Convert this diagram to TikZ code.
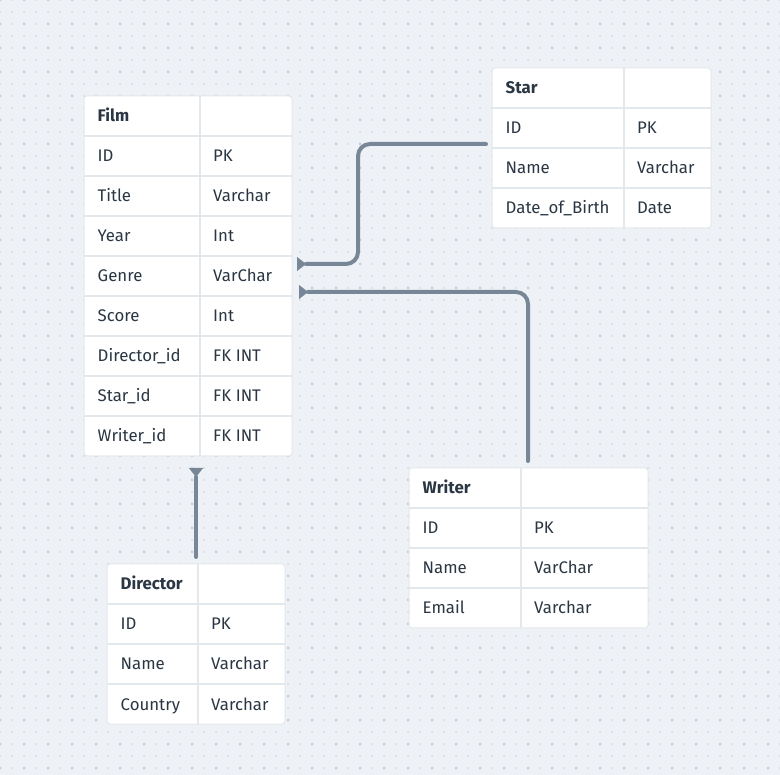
\documentclass[tikz,border=0pt]{standalone}
\usepackage{fontspec}
\setmainfont{Fira Sans}
\usetikzlibrary{arrows.meta}
\definecolor{bg}{HTML}{EEF2F6}
\definecolor{dotl}{HTML}{DCE2E8}
\definecolor{dotd}{HTML}{C6CDD6}
\definecolor{sepc}{HTML}{E3E8ED}
\definecolor{ink}{HTML}{2A3643}
\definecolor{linkc}{HTML}{778797}
\newcommand\erdtab[8]{%
  % #1 name, #2 x, #3 y, #4 split x, #5 right x, #6 title, #7 rows, #8 number of rows
  \node[tbl, minimum width={(#5-#2)*1pt}, minimum height={40pt*(#8+1)}] (#1) at (#2,#3) {};
  \foreach \k in {1,...,#8} {\draw[sepline] (#2,{#3+40*\k}) -- (#5,{#3+40*\k});}
  \draw[sepline] (#4,#3) -- (#4,{#3+40*(#8+1)});
  \node[headtxt] (#1-h) at ({#2+13.5},{#3+26}) {#6};
  \foreach \a/\b [count=\k] in {#7} {
    \node[celltxt] (#1-\k a) at ({#2+13.5},{#3+26+40*\k}) {\a};
    \node[celltxt] (#1-\k b) at ({#4+13},{#3+26+40*\k}) {\b};
  }
}
\begin{document}
\begin{tikzpicture}[x=1pt,y=-1pt,
  tbl/.style={draw=sepc, line width=1pt, fill=white, rounded corners=3pt, anchor=north west, inner sep=0pt, outer sep=0pt},
  celltxt/.style={anchor=base west, inner sep=0pt, font=\fontsize{16.8}{20}\selectfont, text=ink},
  headtxt/.style={celltxt, font=\fontsize{16.8}{20}\selectfont\bfseries},
  sepline/.style={draw=sepc, line width=2pt},
  link/.style={draw=linkc, line width=4pt, line cap=round, rounded corners=12pt},
  fkend/.style={-{Triangle[reversed, length=9pt, width=14pt, line width=0.1pt]}}
]
\useasboundingbox (0,0) rectangle (780,775);
\fill[bg] (0,0) rectangle (780,775);
\fill[dotl] \foreach \i in {0,...,65} {\foreach \j in {0,...,64} {({12*\i-1},{12*\j-1}) rectangle ++(2,2)}};
\fill[dotd] \foreach \i in {0,...,32} {\foreach \j in {0,...,32} {({24*\i-1},{24*\j-1}) rectangle ++(2,2)}};

\erdtab{film}{84}{96}{200}{292}{Film}{ID/PK, Title/Varchar, Year/Int, Genre/VarChar, Score/Int, Director\_id/FK INT, Star\_id/FK INT, Writer\_id/FK INT}{8}
\erdtab{star}{492}{68}{624}{711}{Star}{ID/PK, Name/Varchar, Date\_of\_Birth/Date}{3}
\erdtab{writer}{409}{468}{521}{648}{Writer}{ID/PK, Name/VarChar, Email/Varchar}{3}
\erdtab{director}{107}{564}{198}{285}{Director}{ID/PK, Name/Varchar, Country/Varchar}{3}

\coordinate (star-out) at (486,144);
\coordinate (film-in-star) at (297,264);
\coordinate (writer-out) at (528,461);
\coordinate (film-in-writer) at (299,292);
\coordinate (director-out) at (196,557);
\coordinate (film-in-director) at (196,468);

\draw[link, fkend] (star-out) -- ++(-128,0) |- (film-in-star);
\draw[link, fkend] (writer-out) |- (film-in-writer);
\draw[link, fkend] (director-out) -- (film-in-director);
\end{tikzpicture}
\end{document}
